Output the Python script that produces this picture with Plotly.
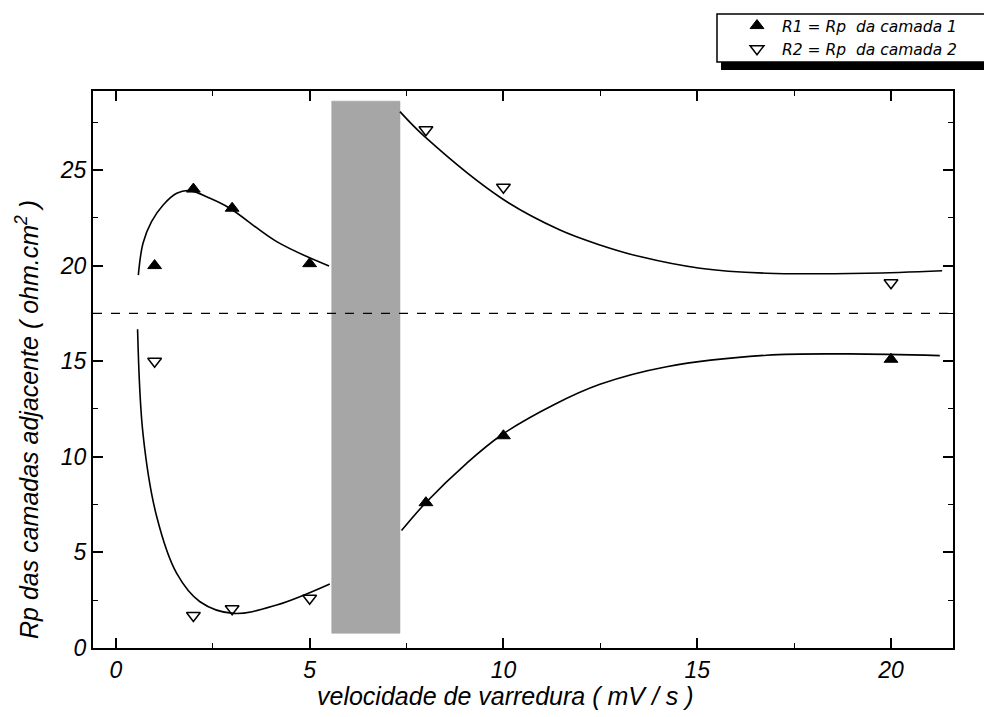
import plotly.graph_objects as go

# ---- measured points ----
speed = [1, 2, 3, 5, 8, 10, 20]
r1_vals = [20.0, 24.0, 23.0, 20.1, 7.6, 11.1, 15.1]
r2_vals = [15.0, 1.7, 2.05, 2.6, 27.1, 24.1, 19.1]

# ---- fitted curves ----
r1_left_x = [0.58, 0.70, 0.92, 1.22, 1.57, 1.90, 2.43, 2.94, 4.15, 5.50]
r1_left_y = [19.5, 21.17, 22.3, 23.17, 23.78, 23.92, 23.52, 23.0, 21.25, 19.98]
r1_right_x = [7.37, 8.02, 9.05, 9.95, 11.29, 12.49, 14.21, 16.79, 18.94, 21.26]
r1_right_y = [6.14, 7.65, 9.66, 11.14, 12.71, 13.79, 14.71, 15.31, 15.38, 15.29]
r2_left_x = [0.56, 0.70, 1.05, 1.57, 2.17, 3.03, 4.15, 5.52]
r2_left_y = [16.67, 11.2, 6.9, 3.9, 2.42, 1.81, 2.25, 3.35]
r2_right_x = [7.33, 7.97, 9.95, 11.46, 12.49, 13.52, 15.07, 16.79, 19.37, 21.32]
r2_right_y = [28.05, 26.74, 23.52, 21.86, 21.08, 20.47, 19.86, 19.6, 19.6, 19.73]

# ---- reference elements ----
band_x = [5.57, 7.33]
band_y = [0.77, 28.6]
ref_level = 17.5

x_ticks = [0, 5, 10, 15, 20]
y_ticks = [0, 5, 10, 15, 20, 25]
x_range = [-0.59, 21.6]
y_range = [0, 29.13]

FONT = "Liberation Sans, Arial, sans-serif"
LEG_FONT = "DejaVu Sans, Liberation Sans, sans-serif"

# plot area in pixels (for converting legend-frame pixels to paper units)
PL, PR, PT, PB = 93, 953, 91, 648


def px(xp):
    return (xp - PL) / (PR - PL)


def py(yp):
    return (PB - yp) / (PB - PT)


fig = go.Figure()

for cx, cy in [(r1_left_x, r1_left_y), (r1_right_x, r1_right_y),
               (r2_left_x, r2_left_y), (r2_right_x, r2_right_y)]:
    fig.add_trace(go.Scatter(x=cx, y=cy, mode="lines",
                             line=dict(color="black", width=1.6, shape="spline", smoothing=1.0),
                             showlegend=False, hoverinfo="skip"))

fig.add_trace(go.Scatter(x=speed, y=r1_vals, mode="markers",
                         name="R1 = Rp  da camada 1",
                         marker=dict(symbol="triangle-up", size=12, color="black",
                                     line=dict(color="black", width=1))))
fig.add_trace(go.Scatter(x=speed, y=r2_vals, mode="markers",
                         name="R2 = Rp  da camada 2",
                         marker=dict(symbol="triangle-down-open", size=12, color="black",
                                     line=dict(color="black", width=1.5))))

shapes = [
    dict(type="rect", xref="x", yref="y", x0=band_x[0], x1=band_x[1],
         y0=band_y[0], y1=band_y[1], fillcolor="#a6a6a6",
         line=dict(color="#9a9a9a", width=0.5), layer="below"),
    dict(type="line", xref="paper", yref="y", x0=0, x1=1, y0=ref_level, y1=ref_level,
         line=dict(color="black", width=1.2, dash="dash"), layer="above"),
    # legend frame: shadow then box
    dict(type="rect", xref="paper", yref="paper",
         x0=px(721), x1=px(1010), y0=py(70), y1=py(22),
         fillcolor="black", line=dict(width=0), layer="above"),
    dict(type="rect", xref="paper", yref="paper",
         x0=px(717), x1=px(1010), y0=py(62), y1=py(14),
         fillcolor="white", line=dict(color="black", width=1.5), layer="above"),
]

axis_common = dict(
    showline=True, linecolor="black", linewidth=2, mirror="ticks",
    ticks="inside", ticklen=10, tickwidth=1.5, tickcolor="black",
    showgrid=False, zeroline=False,
    tickfont=dict(family=FONT, size=23, color="black", style="italic"),
)

fig.update_xaxes(range=x_range, tickvals=x_ticks, ticktext=[str(v) for v in x_ticks],
                 minor=dict(ticks="inside", ticklen=5, dtick=2.5, tick0=0, tickcolor="black", tickwidth=1.2),
                 **axis_common)
fig.update_yaxes(range=y_range, tickvals=y_ticks, ticktext=[str(v) for v in y_ticks],
                 minor=dict(ticks="inside", ticklen=5, dtick=2.5, tick0=0, tickcolor="black", tickwidth=1.2),
                 **axis_common)

fig.update_layout(
    width=984, height=717,
    margin=dict(l=PL, r=984 - PR, t=PT, b=717 - PB, autoexpand=False),
    paper_bgcolor="white", plot_bgcolor="white",
    shapes=shapes,
    showlegend=True,
    legend=dict(x=px(732), y=py(9), xanchor="left", yanchor="top",
                bgcolor="rgba(0,0,0,0)", borderwidth=0,
                font=dict(family=LEG_FONT, size=15.5, color="black", style="italic"),
                itemwidth=40, tracegroupgap=0),
    annotations=[
        dict(text="velocidade de varredura ( mV / s )", xref="paper", yref="paper",
             x=px(505), y=py(696), xanchor="center", yanchor="middle",
             showarrow=False, font=dict(family=FONT, size=25, color="black", style="italic")),
        dict(text="Rp das camadas adjacente ( ohm.cm<sup>2</sup> )", xref="paper", yref="paper",
             x=px(27), y=py(420), xanchor="center", yanchor="middle",
             textangle=-90, showarrow=False,
             font=dict(family=FONT, size=25, color="black", style="italic")),
    ],
)

fig.write_html("out.html")
